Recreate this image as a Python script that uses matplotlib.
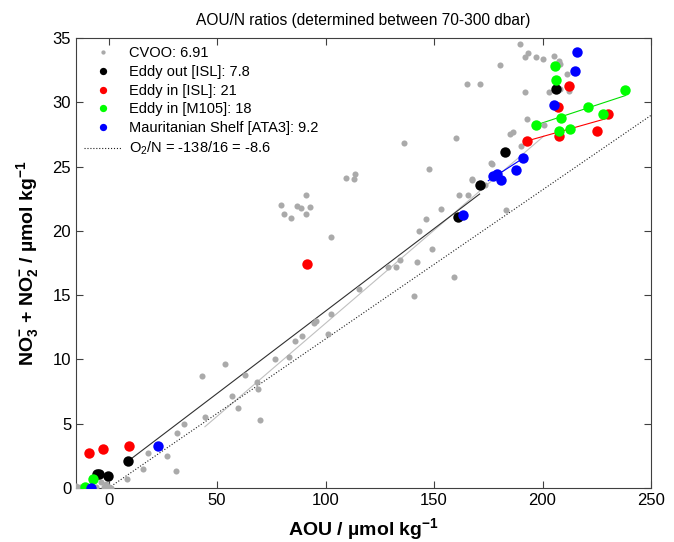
import numpy as np
import matplotlib
matplotlib.use('Agg')
import matplotlib.pyplot as plt

plt.rcParams['font.family'] = ['Liberation Sans', 'DejaVu Sans']
plt.rcParams['mathtext.default'] = 'regular'

# ---------------------------------------------------------------- data
# CVOO (grey)
cvoo_aou = [-14.9, -13, -11, -6, -3.4, -2, -1, 0, 1, 8.4, 15.8, 18.1, 26.9, 31, 31.5, 34.7,
            43, 44.4, 53.6, 56.8, 59.8, 62.8, 68.5, 68.7, 70, 76.6, 79.4, 81, 83, 84, 86, 87,
            88.8, 89, 90.8, 90.8, 92.8, 94.8, 95.4, 101, 102.3, 102.4, 109.5, 113, 113.4,
            115.2, 128.9, 132.5, 134.4, 136.1, 140.7, 142.2, 143, 146.2, 147.5, 149, 153,
            159.3, 159.9, 161.4, 165.1, 165.8, 167.4, 167.6, 171.4, 173.7, 176.4, 176.5,
            180.3, 183, 184.8, 186.3, 189.5, 190.3, 191.7, 192, 192.8, 193.2, 197.2, 200,
            200.6, 202.8, 204.8, 205.4, 207.5, 208.1, 208.2, 211.5, 212]
cvoo_n = [0.18, 0.1, 0.05, 0.1, 0.5, 0.1, 0.3, 0.05, 0.0, 0.7, 1.45, 2.7, 2.5, 1.32, 4.3, 4.95,
          8.73, 5.5, 9.62, 7.13, 6.2, 8.76, 8.24, 7.67, 5.29, 10.06, 22.0, 21.3, 10.2, 21.0, 11.4, 21.9,
          21.8, 11.8, 22.8, 21.3, 21.85, 12.8, 13.0, 12.0, 19.5, 13.5, 24.1, 24.0, 24.4,
          15.5, 17.2, 17.2, 17.7, 26.85, 14.9, 17.55, 20.0, 20.9, 24.8, 18.6, 21.7,
          16.4, 27.2, 22.8, 31.4, 22.8, 23.95, 24.0, 31.45, 23.6, 25.25, 25.2,
          32.9, 21.6, 27.5, 27.7, 34.55, 26.6, 33.5, 30.8, 28.7, 33.85, 33.5, 33.4,
          28.2, 30.8, 29.9, 33.6, 33.2, 31.0, 33.0, 32.2, 30.9]

# Eddy out [ISL] (black)
out_aou = [-5.4, -4.5, -0.1, 8.8, 161, 171, 182.8, 206]
out_n = [1.09, 1.07, 0.93, 2.07, 21.05, 23.6, 26.1, 31.0]

# Eddy in [ISL] (red)
isl_aou = [-8.8, -2.6, 9.4, 91.4, 192.9, 207, 207.5, 212.4, 224.9, 230]
isl_n = [2.75, 3.0, 3.3, 17.4, 27.0, 29.6, 27.4, 31.3, 27.8, 29.1]

# Eddy in [M105] (green)
m105_aou = [-10.7, -7.2, 196.9, 205.7, 206.3, 207.4, 208.3, 212.6, 220.9, 227.8, 238.2]
m105_n = [0.08, 0.7, 28.2, 32.8, 31.7, 27.8, 28.75, 27.9, 29.65, 29.1, 30.95]

# Mauritanian Shelf [ATA3] (blue)
ata3_aou = [-8.3, 22.7, 163.3, 177.1, 179, 181, 188, 190.8, 205.5, 214.9, 216]
ata3_n = [0.03, 3.3, 21.25, 24.26, 24.4, 23.95, 24.7, 25.66, 29.8, 32.4, 33.9]

# fitted lines: AOU/N ratio, intercept, AOU range
fit_ratio = [6.91, 7.8, 21, 18, 9.2, 138 / 16]
fit_icpt = [-1.66, 0.94, 17.81, 17.29, 4.88, 0.0]
fit_start = [44.4, 8.8, 192.9, 196.9, 175, 0]
fit_end = [200.6, 171, 230, 238.2, 191, 250]

labels = ['CVOO: 6.91', 'Eddy out [ISL]: 7.8', 'Eddy in [ISL]: 21', 'Eddy in [M105]: 18',
          'Mauritanian Shelf [ATA3]: 9.2', 'O$_2$/N = -138/16 = -8.6']

#######################################################################################################################

fig = plt.figure(figsize=(6.74, 5.42), dpi=100)
ax = fig.add_axes([0.1128, 0.0996, 0.8531, 0.8303])

line_cols = ['#c0c0c0', '#303030', '#ff0000', '#00e000', '#0000ff', '#202020']
line_styles = ['-', '-', '-', '-', '-', ':']
for i in range(len(fit_ratio)):
    xx = np.array([fit_start[i], fit_end[i]])
    yy = xx / fit_ratio[i] + fit_icpt[i]
    ax.plot(xx, yy, line_styles[i], color=line_cols[i], lw=0.8, zorder=2,
            label=labels[5] if i == 5 else None)

ax.plot(cvoo_aou, cvoo_n, 'o', color='#aaaaaa', ms=4.4, mec='none', zorder=3, label=labels[0])
ax.plot(out_aou, out_n, 'o', color='k', ms=7.5, mec='none', zorder=4, label=labels[1])
ax.plot(isl_aou, isl_n, 'o', color='#ff0000', ms=7.5, mec='none', zorder=4, label=labels[2])
ax.plot(m105_aou, m105_n, 'o', color='#00ff00', ms=7.5, mec='none', zorder=4, label=labels[3])
ax.plot(ata3_aou, ata3_n, 'o', color='#0000ff', ms=7.5, mec='none', zorder=4, label=labels[4])

handles, labs = ax.get_legend_handles_labels()
order = [1, 2, 3, 4, 5, 0]
leg = ax.legend([handles[k] for k in order], [labs[k] for k in order], loc='upper left',
                frameon=False, fontsize=10.5, handlelength=2.6, handletextpad=0.45,
                labelspacing=0.33, borderaxespad=0.25, borderpad=0.3, markerscale=0.7)

ax.set_xlim(-15, 250)
ax.set_ylim(0, 35)
ax.set_xticks(np.arange(0, 251, 50))
ax.set_yticks(np.arange(0, 36, 5))
ax.tick_params(direction='in', length=5, width=0.8, labelsize=12, top=True, right=True,
               color='#404040')
for s in ax.spines.values():
    s.set_color('#404040')
    s.set_linewidth(0.8)

ax.set_title('AOU/N ratios (determined between 70-300 dbar)', fontsize=11.2, pad=9)
ax.set_xlabel('AOU / µmol kg$^{-1}$', fontsize=14, fontweight='bold', labelpad=6)
ax.set_ylabel('NO$_3^{-}$ + NO$_2^{-}$ / µmol kg$^{-1}$', fontsize=14, fontweight='bold', labelpad=8)

fig.savefig('out.png', dpi=100)
